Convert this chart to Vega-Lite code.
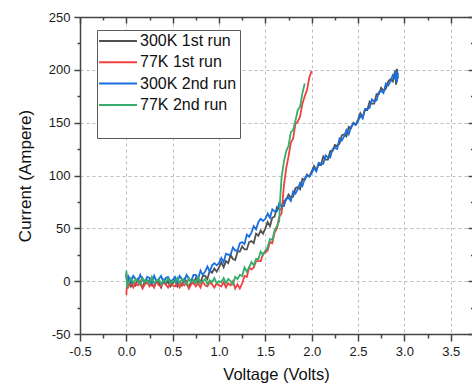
{
  "$schema": "https://vega.github.io/schema/vega-lite/v6.json",
  "width": 392,
  "height": 317,
  "autosize": {"type": "none"},
  "padding": {"left": 80, "top": 17, "right": 0, "bottom": 51},
  "config": {
    "view": {"stroke": null},
    "font": "Liberation Sans",
    "axis": {
      "domainColor": "#444444",
      "tickColor": "#444444",
      "domainWidth": 1.5,
      "tickWidth": 1.5,
      "labelFont": "Liberation Sans",
      "titleFont": "Liberation Sans",
      "labelColor": "#1a1a1a",
      "titleColor": "#111111",
      "titleFontWeight": "normal",
      "gridColor": "#bdbdbd",
      "gridDash": [3, 3],
      "gridWidth": 1
    }
  },
  "data": {
    "values": [
      {"v": 0, "300K 1st run": 8, "77K 1st run": -13, "300K 2nd run": 6, "77K 2nd run": 10},
      {"v": 0.01, "300K 1st run": -7, "77K 1st run": 2, "300K 2nd run": -2, "77K 2nd run": -6},
      {"v": 0.025, "300K 1st run": 1, "77K 1st run": -5, "300K 2nd run": 4, "77K 2nd run": -1},
      {"v": 0.05, "300K 1st run": -5, "77K 1st run": -1, "300K 2nd run": -1, "77K 2nd run": 3},
      {"v": 0.075, "300K 1st run": -1, "77K 1st run": -6, "300K 2nd run": 5, "77K 2nd run": -2},
      {"v": 0.1, "300K 1st run": -4, "77K 1st run": -2, "300K 2nd run": 2, "77K 2nd run": 2},
      {"v": 0.125, "300K 1st run": 2, "77K 1st run": -4, "300K 2nd run": 0, "77K 2nd run": 0},
      {"v": 0.15, "300K 1st run": -3, "77K 1st run": 0, "300K 2nd run": 6, "77K 2nd run": -3},
      {"v": 0.175, "300K 1st run": -6, "77K 1st run": -7, "300K 2nd run": 1, "77K 2nd run": 3},
      {"v": 0.2, "300K 1st run": 0, "77K 1st run": -3, "300K 2nd run": -1, "77K 2nd run": -1},
      {"v": 0.225, "300K 1st run": -2, "77K 1st run": -1, "300K 2nd run": 4, "77K 2nd run": 1},
      {"v": 0.25, "300K 1st run": 1, "77K 1st run": -5, "300K 2nd run": 3, "77K 2nd run": -2},
      {"v": 0.275, "300K 1st run": -4, "77K 1st run": -2, "300K 2nd run": -2, "77K 2nd run": 4},
      {"v": 0.3, "300K 1st run": -5, "77K 1st run": -6, "300K 2nd run": 5, "77K 2nd run": -2},
      {"v": 0.325, "300K 1st run": 0, "77K 1st run": 0, "300K 2nd run": 0, "77K 2nd run": 0},
      {"v": 0.35, "300K 1st run": -1, "77K 1st run": -4, "300K 2nd run": 2, "77K 2nd run": 2},
      {"v": 0.375, "300K 1st run": -6, "77K 1st run": -5, "300K 2nd run": 5, "77K 2nd run": -3},
      {"v": 0.4, "300K 1st run": 1, "77K 1st run": -1, "300K 2nd run": -1, "77K 2nd run": 1},
      {"v": 0.425, "300K 1st run": -3, "77K 1st run": -3, "300K 2nd run": 3, "77K 2nd run": -1},
      {"v": 0.45, "300K 1st run": 0, "77K 1st run": -6, "300K 2nd run": 4, "77K 2nd run": 3},
      {"v": 0.475, "300K 1st run": -5, "77K 1st run": -2, "300K 2nd run": 0, "77K 2nd run": -2},
      {"v": 0.5, "300K 1st run": -2, "77K 1st run": -4, "300K 2nd run": 1, "77K 2nd run": 0},
      {"v": 0.525, "300K 1st run": 1, "77K 1st run": -5, "300K 2nd run": 4, "77K 2nd run": -1},
      {"v": 0.55, "300K 1st run": -5, "77K 1st run": -1, "300K 2nd run": -1, "77K 2nd run": 3},
      {"v": 0.575, "300K 1st run": -1, "77K 1st run": -6, "300K 2nd run": 5, "77K 2nd run": -2},
      {"v": 0.6, "300K 1st run": -4, "77K 1st run": -2, "300K 2nd run": 2, "77K 2nd run": 2},
      {"v": 0.625, "300K 1st run": 2, "77K 1st run": -4, "300K 2nd run": 0, "77K 2nd run": 0},
      {"v": 0.65, "300K 1st run": -3, "77K 1st run": 0, "300K 2nd run": 6, "77K 2nd run": -3},
      {"v": 0.675, "300K 1st run": -6, "77K 1st run": -7, "300K 2nd run": 2, "77K 2nd run": 3},
      {"v": 0.7, "300K 1st run": 0, "77K 1st run": -3, "300K 2nd run": 0, "77K 2nd run": -1},
      {"v": 0.725, "300K 1st run": -2, "77K 1st run": -1, "300K 2nd run": 6, "77K 2nd run": 1},
      {"v": 0.75, "300K 1st run": 3, "77K 1st run": -5, "300K 2nd run": 6, "77K 2nd run": -2},
      {"v": 0.775, "300K 1st run": -1, "77K 1st run": -2, "300K 2nd run": 2, "77K 2nd run": 4},
      {"v": 0.8, "300K 1st run": -1, "77K 1st run": -6, "300K 2nd run": 10, "77K 2nd run": -2},
      {"v": 0.825, "300K 1st run": 5, "77K 1st run": 0, "300K 2nd run": 6, "77K 2nd run": 0},
      {"v": 0.85, "300K 1st run": 5, "77K 1st run": -4, "300K 2nd run": 9, "77K 2nd run": 2},
      {"v": 0.875, "300K 1st run": 2, "77K 1st run": -5, "300K 2nd run": 14, "77K 2nd run": -3},
      {"v": 0.9, "300K 1st run": 10, "77K 1st run": -1, "300K 2nd run": 9, "77K 2nd run": 1},
      {"v": 0.925, "300K 1st run": 8, "77K 1st run": -3, "300K 2nd run": 15, "77K 2nd run": -1},
      {"v": 0.95, "300K 1st run": 12, "77K 1st run": -6, "300K 2nd run": 17, "77K 2nd run": 3},
      {"v": 0.975, "300K 1st run": 9, "77K 1st run": -2, "300K 2nd run": 15, "77K 2nd run": -2},
      {"v": 1.0, "300K 1st run": 13, "77K 1st run": -4, "300K 2nd run": 17, "77K 2nd run": 0},
      {"v": 1.025, "300K 1st run": 18, "77K 1st run": -5, "300K 2nd run": 22, "77K 2nd run": -1},
      {"v": 1.05, "300K 1st run": 13, "77K 1st run": -1, "300K 2nd run": 18, "77K 2nd run": 3},
      {"v": 1.075, "300K 1st run": 19, "77K 1st run": -6, "300K 2nd run": 26, "77K 2nd run": -2},
      {"v": 1.1, "300K 1st run": 17, "77K 1st run": -2, "300K 2nd run": 25, "77K 2nd run": 2},
      {"v": 1.125, "300K 1st run": 25, "77K 1st run": -4, "300K 2nd run": 25, "77K 2nd run": 0},
      {"v": 1.15, "300K 1st run": 21, "77K 1st run": 0, "300K 2nd run": 32, "77K 2nd run": -3},
      {"v": 1.175, "300K 1st run": 20, "77K 1st run": -7, "300K 2nd run": 29, "77K 2nd run": 4},
      {"v": 1.2, "300K 1st run": 28, "77K 1st run": -3, "300K 2nd run": 29, "77K 2nd run": 2},
      {"v": 1.225, "300K 1st run": 28, "77K 1st run": -7, "300K 2nd run": 36, "77K 2nd run": 6},
      {"v": 1.25, "300K 1st run": 33, "77K 1st run": -2, "300K 2nd run": 37, "77K 2nd run": 5},
      {"v": 1.275, "300K 1st run": 30, "77K 1st run": 5, "300K 2nd run": 35, "77K 2nd run": 13},
      {"v": 1.3, "300K 1st run": 30, "77K 1st run": 4, "300K 2nd run": 44, "77K 2nd run": 9},
      {"v": 1.325, "300K 1st run": 37, "77K 1st run": 13, "300K 2nd run": 42, "77K 2nd run": 13},
      {"v": 1.35, "300K 1st run": 38, "77K 1st run": 11, "300K 2nd run": 46, "77K 2nd run": 18},
      {"v": 1.375, "300K 1st run": 36, "77K 1st run": 13, "300K 2nd run": 52, "77K 2nd run": 15},
      {"v": 1.4, "300K 1st run": 45, "77K 1st run": 19, "300K 2nd run": 49, "77K 2nd run": 21},
      {"v": 1.425, "300K 1st run": 43, "77K 1st run": 19, "300K 2nd run": 56, "77K 2nd run": 21},
      {"v": 1.45, "300K 1st run": 48, "77K 1st run": 19, "300K 2nd run": 59, "77K 2nd run": 28},
      {"v": 1.475, "300K 1st run": 45, "77K 1st run": 26, "300K 2nd run": 57, "77K 2nd run": 25},
      {"v": 1.5, "300K 1st run": 50, "77K 1st run": 27, "300K 2nd run": 59, "77K 2nd run": 29},
      {"v": 1.525, "300K 1st run": 56, "77K 1st run": 29, "300K 2nd run": 64, "77K 2nd run": 32},
      {"v": 1.55, "300K 1st run": 52, "77K 1st run": 37, "300K 2nd run": 60, "77K 2nd run": 40},
      {"v": 1.575, "300K 1st run": 60, "77K 1st run": 36, "300K 2nd run": 68, "77K 2nd run": 39},
      {"v": 1.6, "300K 1st run": 61, "77K 1st run": 46, "300K 2nd run": 66, "77K 2nd run": 48},
      {"v": 1.625, "300K 1st run": 70, "77K 1st run": 50, "300K 2nd run": 66, "77K 2nd run": 52},
      {"v": 1.65, "300K 1st run": 68, "77K 1st run": 61, "300K 2nd run": 74, "77K 2nd run": 57},
      {"v": 1.66, "77K 2nd run": 78},
      {"v": 1.675, "300K 1st run": 68, "77K 1st run": 64, "300K 2nd run": 71, "77K 2nd run": 98},
      {"v": 1.7, "300K 1st run": 76, "77K 1st run": 90, "300K 2nd run": 71, "77K 2nd run": 113},
      {"v": 1.725, "300K 1st run": 77, "77K 1st run": 107, "300K 2nd run": 78, "77K 2nd run": 123},
      {"v": 1.75, "300K 1st run": 82, "77K 1st run": 118, "300K 2nd run": 79, "77K 2nd run": 128},
      {"v": 1.775, "300K 1st run": 79, "77K 1st run": 131, "300K 2nd run": 76, "77K 2nd run": 141},
      {"v": 1.8, "300K 1st run": 80, "77K 1st run": 135, "300K 2nd run": 85, "77K 2nd run": 143},
      {"v": 1.825, "300K 1st run": 88, "77K 1st run": 149, "300K 2nd run": 83, "77K 2nd run": 152},
      {"v": 1.85, "300K 1st run": 89, "77K 1st run": 151, "300K 2nd run": 87, "77K 2nd run": 162},
      {"v": 1.875, "300K 1st run": 87, "77K 1st run": 156, "300K 2nd run": 93, "77K 2nd run": 165},
      {"v": 1.9, "300K 1st run": 97, "77K 1st run": 168, "300K 2nd run": 90, "77K 2nd run": 178},
      {"v": 1.925, "300K 1st run": 96, "77K 1st run": 175, "300K 2nd run": 97, "77K 2nd run": 187},
      {"v": 1.95, "300K 1st run": 101, "77K 1st run": 181, "300K 2nd run": 100},
      {"v": 1.975, "300K 1st run": 99, "77K 1st run": 193, "300K 2nd run": 99},
      {"v": 2.0, "300K 1st run": 104, "77K 1st run": 199, "300K 2nd run": 102},
      {"v": 2.025, "300K 1st run": 109, "300K 2nd run": 107},
      {"v": 2.05, "300K 1st run": 105, "300K 2nd run": 104},
      {"v": 2.075, "300K 1st run": 111, "300K 2nd run": 112},
      {"v": 2.1, "300K 1st run": 110, "300K 2nd run": 111},
      {"v": 2.125, "300K 1st run": 118, "300K 2nd run": 111},
      {"v": 2.15, "300K 1st run": 115, "300K 2nd run": 119},
      {"v": 2.175, "300K 1st run": 115, "300K 2nd run": 117},
      {"v": 2.2, "300K 1st run": 123, "300K 2nd run": 117},
      {"v": 2.225, "300K 1st run": 123, "300K 2nd run": 125},
      {"v": 2.25, "300K 1st run": 129, "300K 2nd run": 126},
      {"v": 2.275, "300K 1st run": 128, "300K 2nd run": 125},
      {"v": 2.3, "300K 1st run": 130, "300K 2nd run": 135},
      {"v": 2.325, "300K 1st run": 138, "300K 2nd run": 133},
      {"v": 2.35, "300K 1st run": 139, "300K 2nd run": 137},
      {"v": 2.375, "300K 1st run": 137, "300K 2nd run": 143},
      {"v": 2.4, "300K 1st run": 146, "300K 2nd run": 139},
      {"v": 2.425, "300K 1st run": 145, "300K 2nd run": 146},
      {"v": 2.45, "300K 1st run": 150, "300K 2nd run": 149},
      {"v": 2.475, "300K 1st run": 148, "300K 2nd run": 148},
      {"v": 2.5, "300K 1st run": 153, "300K 2nd run": 151},
      {"v": 2.525, "300K 1st run": 159, "300K 2nd run": 157},
      {"v": 2.55, "300K 1st run": 155, "300K 2nd run": 154},
      {"v": 2.575, "300K 1st run": 162, "300K 2nd run": 163},
      {"v": 2.6, "300K 1st run": 162, "300K 2nd run": 163},
      {"v": 2.625, "300K 1st run": 170, "300K 2nd run": 164},
      {"v": 2.65, "300K 1st run": 168, "300K 2nd run": 172},
      {"v": 2.675, "300K 1st run": 168, "300K 2nd run": 170},
      {"v": 2.7, "300K 1st run": 177, "300K 2nd run": 171},
      {"v": 2.725, "300K 1st run": 177, "300K 2nd run": 179},
      {"v": 2.75, "300K 1st run": 183, "300K 2nd run": 180},
      {"v": 2.775, "300K 1st run": 180, "300K 2nd run": 178},
      {"v": 2.8, "300K 1st run": 182, "300K 2nd run": 187},
      {"v": 2.825, "300K 1st run": 189, "300K 2nd run": 185},
      {"v": 2.85, "300K 1st run": 191, "300K 2nd run": 189},
      {"v": 2.875, "300K 1st run": 189, "300K 2nd run": 195},
      {"v": 2.9, "300K 1st run": 199, "300K 2nd run": 192},
      {"v": 2.91, "300K 1st run": 186, "300K 2nd run": 200},
      {"v": 2.92, "300K 1st run": 201, "300K 2nd run": 188},
      {"v": 2.93, "300K 1st run": 192, "300K 2nd run": 197}
    ]
  },
  "transform": [
    {"fold": ["300K 1st run", "77K 1st run", "300K 2nd run", "77K 2nd run"], "as": ["series", "current"]},
    {"filter": "isValid(datum.current)"}
  ],
  "resolve": {"axis": {"x": "independent", "y": "independent"}},
  "layer": [
    {
      "mark": {"type": "line", "strokeWidth": 1.8},
      "encoding": {
        "x": {
          "field": "v", "type": "quantitative",
          "scale": {"domain": [-0.5, 3.73], "nice": false, "zero": false},
          "axis": {
            "orient": "bottom",
            "values": [-0.5, 0, 0.5, 1, 1.5, 2, 2.5, 3, 3.5],
            "labelExpr": "replace(format(datum.value, '.1f'), '\u2212', '-')",
            "tickSize": 7, "labelPadding": 4, "labelFontSize": 13,
            "labelFlush": false, "labelOverlap": false,
            "title": "Voltage (Volts)", "titleFontSize": 16.5, "titlePadding": 8,
            "grid": true
          }
        },
        "y": {
          "field": "current", "type": "quantitative",
          "scale": {"domain": [-50, 250], "nice": false, "zero": false},
          "axis": {
            "orient": "left",
            "values": [-50, 0, 50, 100, 150, 200, 250],
            "labelExpr": "replace(format(datum.value, 'd'), '\u2212', '-')",
            "tickSize": 6, "labelPadding": 4, "labelFontSize": 13,
            "labelFlush": false, "labelOverlap": false,
            "title": "Current (Ampere)", "titleFontSize": 17, "titlePadding": 14,
            "grid": true
          }
        },
        "color": {
          "field": "series", "type": "nominal",
          "scale": {
            "domain": ["300K 1st run", "77K 1st run", "300K 2nd run", "77K 2nd run", "\u00a0"],
            "range": ["#515151", "#F14040", "#1A6FDF", "#37AD6B", "rgba(255,255,255,0)"]
          },
          "legend": {
            "orient": "none", "legendX": 17, "legendY": 13,
            "title": null,
            "strokeColor": "#5a5a5a", "fillColor": "white",
            "padding": 3, "cornerRadius": 0,
            "labelFontSize": 16, "labelFont": "Liberation Sans", "labelColor": "#111111",
            "labelLimit": 0, "labelOffset": 14,
            "symbolType": "M-3,0H3", "symbolSize": 160, "symbolStrokeWidth": 2,
            "symbolOffset": 10,
            "rowPadding": 5.3
          }
        }
      }
    },
    {
      "mark": {"type": "point", "opacity": 0},
      "encoding": {
        "x": {"field": "v", "type": "quantitative",
          "axis": {"orient": "bottom", "values": [-0.25, 0.25, 0.75, 1.25, 1.75, 2.25, 2.75, 3.25], "tickSize": 4, "labels": false, "domain": false, "grid": false, "title": null}},
        "y": {"field": "current", "type": "quantitative",
          "axis": {"orient": "left", "values": [-25, 25, 75, 125, 175, 225], "tickSize": 3, "labels": false, "domain": false, "grid": false, "title": null}}
      }
    },
    {
      "mark": {"type": "point", "opacity": 0},
      "encoding": {
        "x": {"field": "v", "type": "quantitative",
          "axis": {"orient": "top", "values": [-0.5, 0, 0.5, 1, 1.5, 2, 2.5, 3, 3.5], "tickSize": -6, "labels": false, "domain": true, "grid": false, "title": null}},
        "y": {"field": "current", "type": "quantitative",
          "axis": {"orient": "right", "values": [-50, 0, 50, 100, 150, 200, 250], "tickSize": -4, "labels": false, "domain": false, "grid": false, "title": null}}
      }
    },
    {
      "mark": {"type": "point", "opacity": 0},
      "encoding": {
        "x": {"field": "v", "type": "quantitative",
          "axis": {"orient": "top", "values": [-0.25, 0.25, 0.75, 1.25, 1.75, 2.25, 2.75, 3.25], "tickSize": -3, "labels": false, "domain": false, "grid": false, "title": null}},
        "y": {"field": "current", "type": "quantitative",
          "axis": {"orient": "right", "values": [-25, 25, 75, 125, 175, 225], "tickSize": -1.5, "labels": false, "domain": false, "grid": false, "title": null}}
      }
    }
  ]
}
